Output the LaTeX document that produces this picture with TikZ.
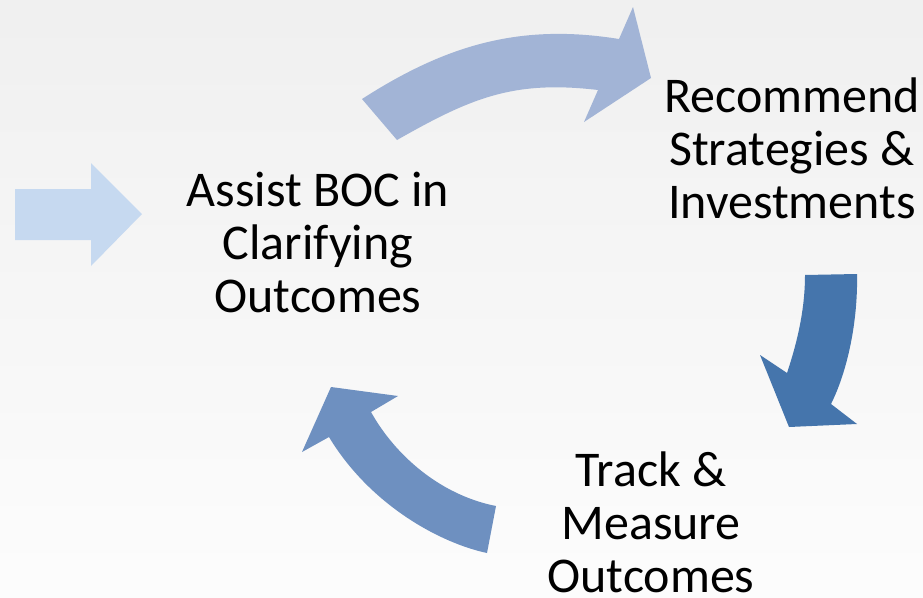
\documentclass[tikz,border=0pt]{standalone}
\usepackage{fontspec}
\setmainfont{Carlito}
\definecolor{inblue}{HTML}{C6D9F0}
\definecolor{topblue}{HTML}{A2B4D6}
\definecolor{rightblue}{HTML}{4575AC}
\definecolor{leftblue}{HTML}{6E90C0}
\tikzset{
	label text/.style={align=center, anchor=base, font=\fontsize{50}{53}\selectfont}
}
\begin{document}
\begin{tikzpicture}[x=1pt, y=-1pt]
		\useasboundingbox (0, 0) rectangle (923, 597);
		\shade[top color=black!6, bottom color=black!1] (0, 0) rectangle (923, 597);
		% input arrow
		\fill[inblue] (15, 189) -- (91, 189) -- (91, 163) -- (142, 214) -- (91, 266) -- (91, 240) -- (15, 240) -- cycle;
		% curved arrows
		\fill[topblue] (362, 99) .. controls (446, 45) and (520, 23) .. (619, 39) -- (633, 7) -- (651, 78) -- (584, 122) -- (598, 90) .. controls (513, 80) and (471, 98) .. (397, 140) -- cycle;
		\fill[rightblue] (805, 275) -- (857, 274) .. controls (858, 320) and (848, 370) .. (831, 404) -- (857, 424) -- (789, 427) -- (760, 355) -- (787, 373) .. controls (797, 343) and (805, 310) .. (805, 275) -- cycle;
		\fill[leftblue] (496, 506) -- (487, 553) .. controls (440, 543) and (370, 505) .. (329, 437) -- (302, 452) -- (331, 387) -- (398, 396) -- (371, 412) .. controls (395, 455) and (440, 495) .. (496, 506) -- cycle;
		% texts (anchored at the baseline of the last line)
		\node[label text] (A) at (318, 312) {Assist BOC in\\Clarifying\\Outcomes};
		\node[label text] (R) at (792, 218) {Recommend\\Strategies \&\\Investments};
		\node[label text] (T) at (651, 592) {Track \&\\Measure\\Outcomes};
	\end{tikzpicture}
\end{document}
